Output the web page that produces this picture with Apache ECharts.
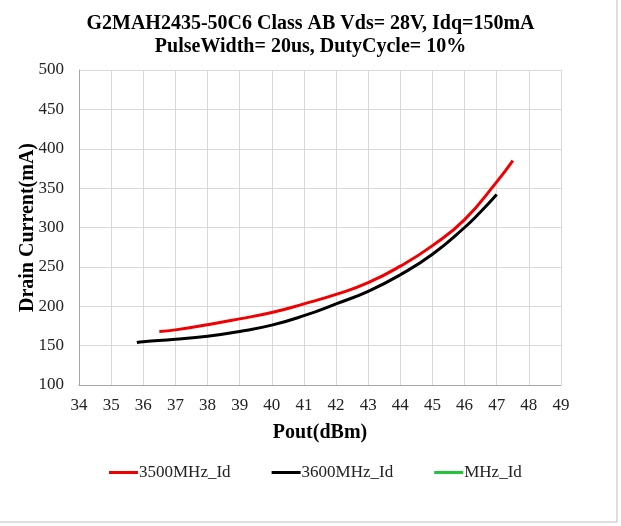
<!DOCTYPE html>
<html>
<head>
<meta charset="utf-8">
<script src="https://cdn.jsdelivr.net/npm/echarts@6/dist/echarts.min.js"></script>
<style>
  html, body { margin: 0; padding: 0; background: #fff; }
  #chart { width: 621px; height: 526px; }
</style>
</head>
<body>
<div id="chart"></div>
<script>
// values
var titleLines = ['G2MAH2435-50C6 Class AB Vds= 28V, Idq=150mA', 'PulseWidth= 20us, DutyCycle= 10%']
var seriesNames = ['3500MHz_Id', '3600MHz_Id', 'MHz_Id']
var seriesColors = ['#f00000', '#000000', '#22c33a']

var id3500 = [
  [36.5, 168], [37, 170], [38, 176.5], [39, 184], [40, 192], [41, 203],
  [42, 215], [43, 230], [44, 251], [45, 277], [46, 310], [47, 358], [47.5, 385]
]
var id3600 = [
  [35.8, 154], [36, 155], [37, 158], [38, 162], [39, 168], [40, 176], [41, 188],
  [42, 203], [43, 219], [44, 240], [45, 266], [46, 300], [46.5, 320], [47, 342]
]
var idEmpty = []

var xMin = 34, xMax = 49, xStep = 1
var yMin = 100, yMax = 500, yStep = 50

var serif = '"Liberation Serif", "Times New Roman", serif'
var chart = echarts.init(document.getElementById('chart'))

function line(name, data, color) {
  return {
    name: name,
    type: 'line',
    data: data,
    smooth: true,
    showSymbol: false,
    lineStyle: { color: color, width: 3 },
    itemStyle: { color: color }
  }
}

chart.setOption({
  animation: false,
  backgroundColor: '#fff',
  title: {
    text: titleLines.join('\n'),
    left: 'center',
    top: 7,
    textStyle: {
      fontFamily: serif,
      fontWeight: 'bold',
      fontSize: 20,
      lineHeight: 23,
      color: '#000'
    }
  },
  grid: { left: 79, right: 60, top: 70, bottom: 141 },
  legend: {
    top: 459,
    left: 104,
    itemGap: 41,
    itemWidth: 29,
    itemHeight: 3,
    icon: 'rect',
    textStyle: { fontFamily: serif, fontSize: 17, color: '#222', padding: [0, 0, 0, -4] },
    data: seriesNames
  },
  xAxis: {
    type: 'value',
    min: xMin,
    max: xMax,
    interval: xStep,
    name: 'Pout(dBm)',
    nameLocation: 'middle',
    nameGap: 38,
    nameMoveOverlap: false,
    nameTextStyle: { fontFamily: serif, fontWeight: 'bold', fontSize: 20, color: '#000' },
    axisLine: { lineStyle: { color: '#a6a6a6' } },
    axisTick: { show: false },
    axisLabel: { fontFamily: serif, fontSize: 17, color: '#222', margin: 12 },
    splitLine: { lineStyle: { color: '#d9d9d9' } }
  },
  yAxis: {
    type: 'value',
    min: yMin,
    max: yMax,
    interval: yStep,
    name: 'Drain Current(mA)',
    nameLocation: 'middle',
    nameGap: 41,
    nameMoveOverlap: false,
    nameTextStyle: { fontFamily: serif, fontWeight: 'bold', fontSize: 20, color: '#000' },
    axisLine: { show: true, lineStyle: { color: '#a6a6a6' } },
    axisTick: { show: false },
    axisLabel: { fontFamily: serif, fontSize: 17, color: '#222', margin: 15 },
    splitLine: { lineStyle: { color: '#d9d9d9' } }
  },
  graphic: [{
    type: 'rect',
    shape: { x: -1, y: -1, width: 618, height: 523 },
    style: { fill: 'none', stroke: '#bfbfbf', lineWidth: 1 },
    silent: true
  }],
  series: [
    line(seriesNames[0], id3500, seriesColors[0]),
    line(seriesNames[1], id3600, seriesColors[1]),
    line(seriesNames[2], idEmpty, seriesColors[2])
  ]
})
</script>
</body>
</html>
